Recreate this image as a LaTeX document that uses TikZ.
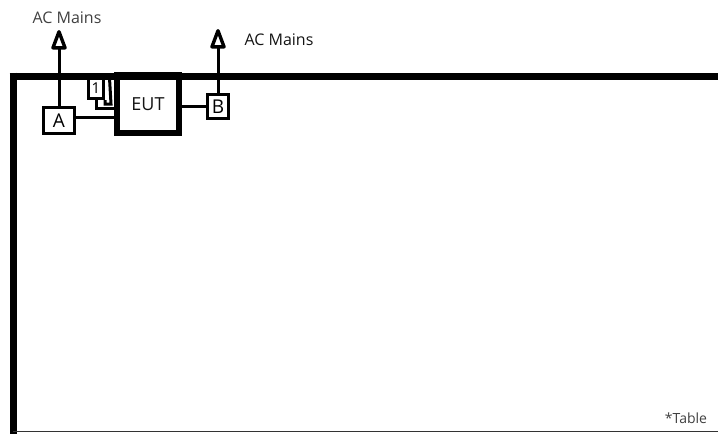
\documentclass[tikz,border=0pt]{standalone}
\usepackage{fontspec}
\setmainfont{Open Sans}
\usetikzlibrary{arrows.meta,calc}
\definecolor{txtgray}{HTML}{141414}
\definecolor{lightgray}{HTML}{404040}
\tikzset{
  tablebar/.style={line width=7pt, black},
  boxnode/.style={draw, line width=3pt, inner sep=0pt, font=\fontsize{19}{19}\selectfont, text=black},
  eutnode/.style={draw, line width=6pt, inner sep=0pt, minimum width=62pt, minimum height=58pt, font=\fontsize{18}{18}\selectfont, text=txtgray},
  wire/.style={line width=3pt, black},
  mainsarrow/.style={line width=3pt, black, -{Triangle[open, length=23pt, width=16pt, line width=3.4pt, round]}},
  label/.style={inner sep=0pt, font=\fontsize{16}{16}\selectfont, text=txtgray}
}
\begin{document}
\begin{tikzpicture}[x=1pt,y=-1pt]
\useasboundingbox (0,0) rectangle (718,434);
% table outline
\draw[tablebar] (13,72.5) -- (13,445);
\draw[tablebar] (9.5,76) -- (730,76);
\draw[line width=1.5pt, black!80] (13,431.5) -- (730,431.5);
% nodes
\node[eutnode] (EUT) at (148,104) {EUT};
\node[boxnode, minimum width=31pt, minimum height=26pt] (A) at (59,120.5) {A};
\node[boxnode, minimum width=21pt, minimum height=24pt] (B) at (218,106.5) {B};
\node[boxnode, minimum width=15pt, minimum height=21pt, font=\fontsize{15}{15}\selectfont] (one) at (96,88) {1};
\coordinate (oneend) at (96,108.5);
\coordinate (mainsA) at (59,30);
\coordinate (mainsB) at (218,29);
% connectors
\draw[wire] ([yshift=3.5pt]A.east) -- ([yshift=3.5pt]A.east -| EUT.west);
\draw[wire] (B.west -| EUT.east) -- (B.west);
\draw[wire] (one.south) -- (oneend) -- (oneend -| EUT.west);
\draw[wire] (one.south east) -- ++(0,4) -- ++(6,0) -- (109.5,78);
\draw[mainsarrow] (A.north) -- (mainsA);
\draw[mainsarrow] (B.north) -- (mainsB);
% labels
\node[label, text=lightgray] (lblA) at (67,18) {AC Mains};
\node[label] (lblB) at (279,40) {AC Mains};
\node[label, font=\fontsize{14}{14}\selectfont, text=lightgray] (tbl) at (686,418) {*Table};
\end{tikzpicture}
\end{document}
